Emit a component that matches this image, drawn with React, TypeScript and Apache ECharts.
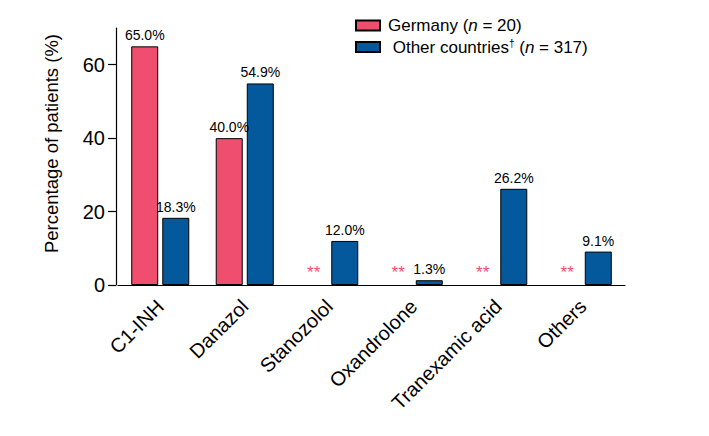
import React, { useEffect, useRef } from "react";
import * as echarts from "echarts";

const categories = ["C1-INH", "Danazol", "Stanozolol", "Oxandrolone", "Tranexamic acid", "Others"];
const germany = [65.0, 40.0, 0, 0, 0, 0];
const otherCountries = [18.3, 54.9, 12.0, 1.3, 26.2, 9.1];
const yTicks = [0, 20, 40, 60];

const PINK = "#EF4E6F";
const BLUE = "#04599C";
const FONT = "Liberation Sans, Arial, Helvetica, sans-serif";

export default function App() {
  const ref = useRef<HTMLDivElement>(null);
  useEffect(() => {
    if (!ref.current) return;
    const chart = echarts.init(ref.current, null, { renderer: "svg" });
    const pctLabel = (p: any) => (p.value === 0 ? "{s|**}" : Number(p.value).toFixed(1) + "%");
    const toItems = (arr: number[]) =>
      arr.map((v) => (v === 0 ? { value: v, itemStyle: { borderWidth: 0, color: "rgba(0,0,0,0)" } } : v));
    chart.setOption({
      animation: false,
      textStyle: { fontFamily: FONT },
      legend: {
        orient: "vertical",
        left: 350,
        top: 12,
        itemWidth: 24,
        itemHeight: 10,
        itemGap: 4,
        icon: "rect",
        textStyle: {
          fontSize: 17,
          color: "#000",
          fontFamily: FONT,
          padding: [0, 0, 0, 3],
          rich: {
            i: { fontStyle: "italic", fontSize: 17, fontFamily: FONT, color: "#000" },
            sup: { fontSize: 10, verticalAlign: "top", padding: [0, 0, 8, 0], fontFamily: FONT, color: "#000" },
          },
        },
        formatter: (name: string) =>
          name === "Germany"
            ? "Germany ({i|n} = 20)"
            : " Other countries{sup|†} ({i|n} = 317)",
      },
      grid: { left: 118, right: 84, top: 28, bottom: 151, containLabel: false },
      xAxis: {
        type: "category",
        data: categories,
        axisLine: { lineStyle: { color: "#000", width: 1.2 } },
        axisTick: { alignWithLabel: true, length: 7, lineStyle: { color: "#000", width: 1.2 } },
        axisLabel: { rotate: 45, fontSize: 20, color: "#000", margin: 18, fontFamily: FONT, interval: 0 },
      },
      yAxis: {
        type: "value",
        min: 0,
        max: 70,
        offset: 2,
        name: "Percentage of patients (%)",
        nameLocation: "middle",
        nameGap: 55,
        nameTextStyle: { fontSize: 18.5, color: "#000", fontFamily: FONT, padding: [0, 0, 0, 26] },
        splitLine: { show: false },
        axisLine: { show: true, lineStyle: { color: "#000", width: 1.2 } },
        axisTick: { show: true, length: 8, customValues: yTicks, lineStyle: { color: "#000", width: 1.2 } },
        axisLabel: { fontSize: 20, color: "#000", margin: 11, customValues: yTicks, fontFamily: FONT },
      },
      series: [
        {
          name: "Germany",
          type: "bar",
          data: toItems(germany),
          barWidth: 27,
          barGap: "15%",
          itemStyle: { color: PINK, borderColor: "#000", borderWidth: 1 },
          label: {
            show: true,
            position: "top",
            distance: 4,
            fontSize: 14,
            color: "#000",
            fontFamily: FONT,
            formatter: pctLabel,
            rich: { s: { color: PINK, fontSize: 17, fontFamily: FONT } },
          },
        },
        {
          name: "Other countries",
          type: "bar",
          data: otherCountries,
          barWidth: 27,
          itemStyle: { color: BLUE, borderColor: "#000", borderWidth: 1 },
          label: {
            show: true,
            position: "top",
            distance: 4,
            fontSize: 14,
            color: "#000",
            fontFamily: FONT,
            formatter: pctLabel,
          },
        },
      ],
    });
    return () => chart.dispose();
  }, []);
  return (
    <div
      ref={ref}
      style={{ position: "fixed", left: 0, top: 0, width: 709, height: 436, background: "#fff" }}
    />
  );
}
